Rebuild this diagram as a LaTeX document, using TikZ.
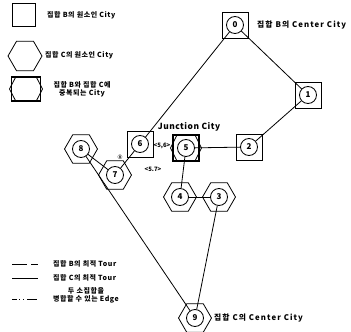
\documentclass[tikz,border=0pt]{standalone}
\usepackage{fontspec}
\setmainfont{Noto Sans CJK KR}
\newfontfamily\symfont{DejaVu Sans}
\usetikzlibrary{shapes.geometric}
\tikzset{
  every node/.style={font=\bfseries},
  city/.style={circle,draw,line width=0.8pt,minimum size=17pt,inner sep=0pt,font=\bfseries\fontsize{8}{8}\selectfont,fill=white},
  sqbox/.style={rectangle,draw,line width=0.8pt,minimum size=26pt,inner sep=0pt},
  boldbox/.style={rectangle,draw,line width=1.8pt,minimum width=26pt,minimum height=26pt,inner sep=0pt},
  hexa/.style={regular polygon,regular polygon sides=6,draw,line width=0.8pt,minimum size=33pt,inner sep=0pt},
  tourline/.style={line width=0.8pt},
  lbl/.style={font=\bfseries\fontsize{7}{8}\selectfont\addfontfeatures{LetterSpace=8},inner sep=0pt},
  biglbl/.style={font=\bfseries\fontsize{7.8}{8}\selectfont\addfontfeatures{LetterSpace=14},inner sep=0pt},
  small/.style={font=\bfseries\fontsize{6}{6}\selectfont,inner sep=0pt}
}
\begin{document}
\begin{tikzpicture}[x=1pt,y=-1pt]
\useasboundingbox (0,0) rectangle (351,332);
% legend shapes
\node[sqbox,minimum size=23pt] (ls) at (23.5,14.5) {};
\node[hexa,minimum size=34pt] (lh) at (25,56) {};
\draw[line width=0.8pt] (26,89) +(-16.5,0) -- +(-10,-12.5) -- +(10,-12.5) -- +(16.5,0) -- +(10,12.5) -- +(-10,12.5) -- cycle;
\node[boldbox,minimum width=29pt,minimum height=24pt] (lob) at (26,89) {};
\node[lbl,anchor=west] (lt1) at (47,15) {집합 B의 원소인 City};
\node[lbl,anchor=west] (lt2) at (45,55) {집합 C의 원소인 City};
\node[lbl,align=center] (lt3) at (82,89) {집합 B와 집합 C에\\중복되는 City};
% shapes of cities
\node[sqbox] (s0) at (235,25) {};
\node[sqbox] (s1) at (308,95) {};
\node[sqbox] (s2) at (249,147) {};
\node[sqbox] (s6) at (140,144) {};
\draw[line width=0.8pt] (186,148) +(-15.5,0) -- +(-9,-13) -- +(9,-13) -- +(15.5,0) -- +(9,13) -- +(-9,13) -- cycle;
\node[boldbox] (b5) at (186,148) {};
\node[hexa] (h7) at (115,175) {};
\node[hexa] (h8) at (81,149) {};
\node[hexa] (h4) at (180,197) {};
\node[hexa] (h3) at (219,197) {};
\node[hexa] (h9) at (195,318) {};
% city circles
\node[city] (c0) at (235,25) {0};
\node[city] (c1) at (308,95) {1};
\node[city] (c2) at (249,147) {2};
\node[city] (c3) at (219,197) {3};
\node[city] (c4) at (180,197) {4};
\node[city] (c5) at (186,148) {5};
\node[city] (c6) at (140,144) {6};
\node[city] (c7) at (115,175) {7};
\node[city] (c8) at (81,149) {8};
\node[city] (c9) at (195,318) {9};
% edges
\draw[tourline] (c0) -- (c1);
\draw[tourline] (c1) -- (c2);
\draw[tourline] (c2) -- (c5);
\draw[tourline] (c5) -- (c4);
\draw[tourline] (c4) -- (c3);
\draw[tourline] (c3) -- (c9);
\draw[tourline] (c9) -- (c8);
\draw[tourline] (c8) -- (c7);
\draw[tourline] (c7) -- (c6);
\draw[tourline] (c6) -- (c0);
% labels
\node[biglbl,anchor=west] (l0) at (257,25) {집합 B의 Center City};
\node[biglbl,anchor=west] (l9) at (214,318) {집합 C의 Center City};
\node[font=\bfseries\fontsize{8.4}{9}\selectfont\addfontfeatures{LetterSpace=6},inner sep=0pt] (jc) at (189,127) {Junction City};
\node[small] (e56) at (162,146) {<5,6>};
\node[small] (e57) at (153,169) {<5.7>};
\node[inner sep=0pt,font=\symfont\fontsize{6}{6}\selectfont] (c8s) at (120,157) {⑧};
% legend lines
\coordinate (a1) at (12,264); \coordinate (b1) at (38,264);
\coordinate (a2) at (12,278); \coordinate (b2) at (38,278);
\coordinate (a3) at (12,299); \coordinate (b3) at (38,299);
\draw[tourline,dash pattern=on 15pt off 4pt on 7pt off 10pt] (a1) -- (b1);
\draw[tourline] (a2) -- (b2);
\draw[tourline,dash pattern=on 5pt off 2pt on 1pt off 3pt on 1pt off 3pt on 10pt off 10pt] (a3) -- (b3);
\node[lbl,anchor=west] (lt4) at (53,264) {집합 B의 최적 Tour};
\node[lbl,anchor=west] (lt5) at (53,278) {집합 C의 최적 Tour};
\node[lbl,align=center] (lt6) at (86,295) {두 소집합을\\병합할 수 있는 Edge};
\end{tikzpicture}
\end{document}
